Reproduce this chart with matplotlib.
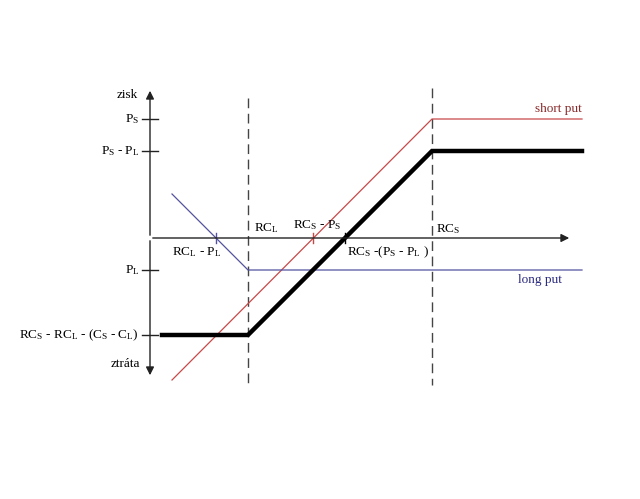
import matplotlib
matplotlib.use("Agg")
import matplotlib.pyplot as plt

plt.rcParams['font.family'] = ['Liberation Serif', 'DejaVu Serif']
plt.rcParams['mathtext.fontset'] = 'custom'
plt.rcParams['mathtext.rm'] = 'Liberation Serif'
plt.rcParams['mathtext.it'] = 'Liberation Serif'

# strike prices and premiums (chart units, origin = axis crossing)
rc_l = 98
rc_s = 282
p_s = 119
p_s_minus_p_l = 87
p_l = -32
floor_val = -97

# payoff lines (break points)
short_x = [22, 282, 432]
short_y = [-142, 119, 119]
long_x = [22, 98, 432]
long_y = [44, -32, -32]
spread_x = [12, 98, 282, 432]
spread_y = [-97, -97, 87, 87]

# x-axis crossings
cross_long = 66
cross_short = 163
cross_spread = 195

y_ticks = [p_s, p_s_minus_p_l, p_l, floor_val]
y_labels = [r'P$_\mathrm{S}$', r'P$_\mathrm{S}$ - P$_\mathrm{L}$', r'P$_\mathrm{L}$',
            r'RC$_\mathrm{S}$ - RC$_\mathrm{L}$ - (C$_\mathrm{S}$ - C$_\mathrm{L}$)']

fig = plt.figure(figsize=(6.4, 4.99), dpi=100)
ax = fig.add_axes([0, 0, 1, 1])
ax.set_xlim(-150, 490)
ax.set_ylim(-261, 238)
ax.axis('off')

red = '#c84848'
blue = '#5252a0'
fs = 9.5

# axes with arrows
arrow = dict(arrowstyle='-|>', color='#222222', lw=1, mutation_scale=12)
ax.annotate('', xy=(0, 150), xytext=(0, 0), arrowprops=arrow)
ax.annotate('', xy=(0, -140), xytext=(0, 0), arrowprops=arrow)
ax.annotate('', xy=(422, 0), xytext=(0, 0), arrowprops=arrow)

# dashed strike lines
ax.plot([rc_l, rc_l], [140, -147], color='#444444', lw=1, ls=(0, (7, 4)))
ax.plot([rc_s, rc_s], [150, -147], color='#444444', lw=1, ls=(0, (7, 4)))

# payoffs
ax.plot(short_x, short_y, color=red, lw=0.9)
ax.plot(long_x, long_y, color=blue, lw=0.9)
ax.plot(spread_x, spread_y, color='black', lw=3.2, solid_joinstyle='miter')

# ticks on y axis
for yv, lab in zip(y_ticks, y_labels):
    ax.plot([-8, 8], [yv, yv], color='#222222', lw=1)
    ax.text(-11, yv, lab, ha='right', va='center', fontsize=fs)

ax.text(-12, 143, 'zisk', ha='right', va='center', fontsize=fs)
ax.text(-10, -126, 'ztráta', ha='right', va='center', fontsize=fs)

# ticks on x axis
for xv, c in [(cross_long, blue), (cross_short, red), (cross_spread, 'black')]:
    ax.plot([xv, xv], [-5, 5], color=c, lw=1)

ax.text(rc_l + 6, 10, r'RC$_\mathrm{L}$', ha='left', va='center', fontsize=fs)
ax.text(rc_s + 4, 9, r'RC$_\mathrm{S}$', ha='left', va='center', fontsize=fs)
ax.text(cross_short - 20, 13, r'RC$_\mathrm{S}$ - P$_\mathrm{S}$', ha='left', va='center', fontsize=fs)
ax.text(cross_long - 44, -14, r'RC$_\mathrm{L}$ - P$_\mathrm{L}$', ha='left', va='center', fontsize=fs)
ax.text(cross_spread + 2, -14, r'RC$_\mathrm{S}$ -(P$_\mathrm{S}$ - P$_\mathrm{L}$ )',
        ha='left', va='center', fontsize=fs)

ax.text(432, 129, 'short put', ha='right', va='center', fontsize=fs, color='#8a2a2a')
ax.text(412, -42, 'long put', ha='right', va='center', fontsize=fs, color='#2a2a80')

fig.savefig('out.png', dpi=100)
